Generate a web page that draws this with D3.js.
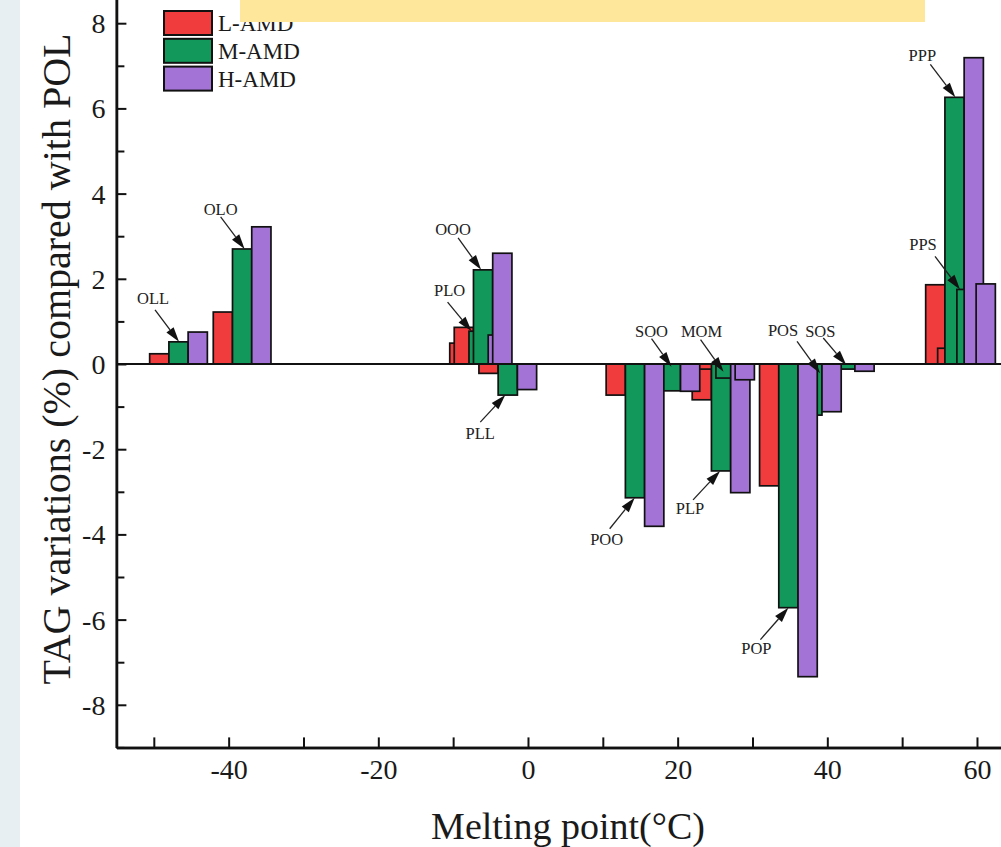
<!DOCTYPE html>
<html>
<head>
<meta charset="utf-8">
<script src="https://cdn.jsdelivr.net/npm/d3@7"></script>
<style>
  html, body { margin: 0; padding: 0; background: #fff; }
  svg { display: block; }
</style>
</head>
<body>
<svg id="chart" width="1001" height="847"></svg>
<script>
// TAG species, ordered by melting point (°C)
const tagNames = ["OLL", "OLO", "PLO", "OOO", "PLL", "POO", "SOO", "PLP", "MOM", "POP", "POS", "SOS", "PPP", "PPS"];
const meltingPoints = [-46.7, -38.2, -6.6, -6.0, -2.7, 14.3, 19.1, 25.8, 26.4, 34.8, 38.0, 42.4, 57.0, 58.6];
// TAG variation (%) compared with POL
const lAmd = [0.24, 1.22, 0.49, 0.86, -0.22, -0.73, -0.40, -0.84, -0.12, -2.86, -0.60, -0.30, 1.86, 0.37];
const mAmd = [0.52, 2.70, 0.77, 2.21, -0.73, -3.14, -0.63, -2.51, -0.33, -5.72, -1.20, -0.12, 6.26, 1.75];
const hAmd = [0.75, 3.22, 0.68, 2.60, -0.60, -3.81, -0.64, -3.02, -0.37, -7.34, -1.12, -0.17, 7.19, 1.88];
const seriesNames = ["L-AMD", "M-AMD", "H-AMD"];
const yMajorTicks = [-8, -6, -4, -2, 0, 2, 4, 6, 8];
const yMinorTicks = [-9, -7, -5, -3, -1, 1, 3, 5, 7];
const xMajorTicks = [-40, -20, 0, 20, 40, 60];
const xMinorTicks = [-50, -30, -10, 10, 30, 50];

const colors = ["#f03c3c", "#12985a", "#a374d6"];
const barWidth = 2.57; // in °C units

// label placement (px) relative to the arrow tip on the M-AMD bar
const annotations = [
  { tag: "OLL", dx: 0.5, end: "top", lx: -26, ly: -44, sx: -24, sy: -32 },
  { tag: "OLO", dx: 2.5, end: "top", lx: -24, ly: -40, sx: -24, sy: -32 },
  { tag: "OOO", dx: -2, end: "top", lx: -28, ly: -41, sx: -23, sy: -32 },
  { tag: "PLO", dx: -7, end: "top", lx: -22, ly: -41, sx: -24, sy: -29 },
  { tag: "PLL", dx: -2.5, end: "top", lx: -25, ly: 38, sx: -25, sy: 27 },
  { tag: "POO", dx: -0.3, end: "top", lx: -28, ly: 41, sx: -25, sy: 31 },
  { tag: "PLP", dx: -1, end: "top", lx: -30, ly: 37, sx: -27, sy: 29 },
  { tag: "POP", dx: 0, end: "top", lx: -32, ly: 41, sx: -28, sy: 32 },
  { tag: "SOO", dx: 0.6, end: "zero", dy: 2.7, lx: -20, ly: -35, sx: -20, sy: -28 },
  { tag: "MOM", dx: -2, end: "zero", dy: 7.7, lx: -22, ly: -40, sx: -23, sy: -32 },
  { tag: "POS", dx: 7.7, end: "zero", dy: 9.3, lx: -37, ly: -43, sx: -23, sy: -32 },
  { tag: "SOS", dx: 1, end: "zero", dy: 1, lx: -26, ly: -34, sx: -23, sy: -27 },
  { tag: "PPP", dx: 0.8, end: "top", lx: -33, ly: -42, sx: -25, sy: -33 },
  { tag: "PPS", dx: -6.5, end: "top", lx: -37, ly: -45, sx: -25, sy: -33 }
];

const svg = d3.select("#chart");
const serif = "'Liberation Serif', 'Times New Roman', serif";

// page backdrop
svg.append("rect").attr("x", 0).attr("y", 0).attr("width", 1001).attr("height", 847).attr("fill", "#fff");
svg.append("rect").attr("x", 0).attr("y", 0).attr("width", 20).attr("height", 847).attr("fill", "#e8eff3");

let x = d3.scaleLinear().domain([-55, 65]).range([116.4, 1014.4]);
let y = d3.scaleLinear().domain([-9, 9]).range([747.4, -19.4]);

let seriesValues = [lAmd, mAmd, hAmd];

// bars: one series after the other, like the original plot
seriesValues.forEach((vals, si) => {
  let offset = (si - 1) * barWidth;
  svg.append("g")
    .attr("class", "series-" + si)
    .selectAll("rect")
    .data(vals.map((v, i) => ({ v: v, mp: meltingPoints[i] })))
    .enter()
    .append("rect")
    .attr("x", (d) => x(d.mp + offset - barWidth / 2))
    .attr("width", x(barWidth) - x(0))
    .attr("y", (d) => Math.min(y(d.v), y(0)))
    .attr("height", (d) => Math.abs(y(d.v) - y(0)))
    .attr("fill", colors[si])
    .attr("stroke", "#111")
    .attr("stroke-width", 1.7);
});

// zero line
svg.append("line")
  .attr("x1", x(-55)).attr("x2", x(65))
  .attr("y1", y(0)).attr("y2", y(0))
  .attr("stroke", "#111").attr("stroke-width", 2.2);

// axes (plain hyphen for negatives, as in the original)
let fmt = (d) => String(d);
let yAxis = d3.axisLeft(y).tickValues(yMajorTicks).tickSize(-10).tickSizeOuter(0).tickPadding(11).tickFormat(fmt);
let yMinor = d3.axisLeft(y).tickValues(yMinorTicks).tickSize(-8).tickSizeOuter(0).tickFormat("");
let xAxis = d3.axisBottom(x).tickValues(xMajorTicks).tickSize(-10).tickSizeOuter(0).tickPadding(12).tickFormat(fmt);
let xMinor = d3.axisBottom(x).tickValues(xMinorTicks).tickSize(-10).tickSizeOuter(0).tickFormat("");

let gy = svg.append("g").attr("transform", `translate(${x(-55)},0)`).call(yAxis);
svg.append("g").attr("transform", `translate(${x(-55)},0)`).call(yMinor);
let gx = svg.append("g").attr("transform", `translate(0,${y(-9)})`).call(xAxis);
svg.append("g").attr("transform", `translate(0,${y(-9)})`).call(xMinor);

svg.selectAll(".domain").attr("stroke", "#111").attr("stroke-width", 2.5);
svg.selectAll(".tick line").attr("stroke", "#111").attr("stroke-width", 2);
svg.selectAll(".tick text")
  .attr("font-family", serif)
  .attr("font-size", 28)
  .attr("fill", "#1a1a1a");
gy.selectAll(".tick text").attr("dy", "0.34em");

// axis titles
svg.append("text")
  .attr("transform", "translate(70,359) rotate(-90)")
  .attr("text-anchor", "middle")
  .attr("font-family", serif)
  .attr("font-size", 40)
  .attr("fill", "#1a1a1a")
  .text("TAG variations (%) compared with POL");

svg.append("text")
  .attr("x", 568)
  .attr("y", 839)
  .attr("text-anchor", "middle")
  .attr("font-family", serif)
  .attr("font-size", 38)
  .attr("fill", "#1a1a1a")
  .text("Melting point(°C)");

// annotations with arrows
let gAnn = svg.append("g").attr("class", "annotations");
annotations.forEach((a) => {
  let i = tagNames.indexOf(a.tag);
  let tx = x(meltingPoints[i]) + a.dx;
  let ty = a.end === "top" ? y(mAmd[i]) : y(0) + a.dy;
  let sx = tx + a.sx, sy = ty + a.sy;
  let ang = Math.atan2(ty - sy, tx - sx);
  let headLen = 15, headW = 4.5;
  let bx = tx - headLen * Math.cos(ang), by = ty - headLen * Math.sin(ang);
  let px = -Math.sin(ang) * headW, py = Math.cos(ang) * headW;

  gAnn.append("line")
    .attr("x1", sx).attr("y1", sy)
    .attr("x2", bx).attr("y2", by)
    .attr("stroke", "#222").attr("stroke-width", 1.3);
  gAnn.append("path")
    .attr("d", `M${tx},${ty}L${bx + px},${by + py}L${bx - px},${by - py}Z`)
    .attr("fill", "#111");
  gAnn.append("text")
    .attr("x", tx + a.lx)
    .attr("y", ty + a.ly)
    .attr("dy", "0.35em")
    .attr("text-anchor", "middle")
    .attr("font-family", serif)
    .attr("font-size", 16.5)
    .attr("fill", "#222")
    .text(a.tag);
});

// legend
let legend = svg.append("g").attr("transform", "translate(164,11)");
seriesNames.forEach((name, i) => {
  let row = legend.append("g").attr("transform", `translate(0,${i * 27.8})`);
  row.append("rect")
    .attr("width", 48).attr("height", 24)
    .attr("fill", colors[i])
    .attr("stroke", "#111").attr("stroke-width", 2);
  row.append("text")
    .attr("x", 54).attr("y", 12)
    .attr("dy", "0.35em")
    .attr("font-family", serif)
    .attr("font-size", 23)
    .attr("fill", "#1a1a1a")
    .text(name);
});

// yellow cover band at the top
svg.append("rect")
  .attr("x", 240).attr("y", 0)
  .attr("width", 685).attr("height", 22)
  .attr("fill", "#fee69b");
</script>
</body>
</html>
